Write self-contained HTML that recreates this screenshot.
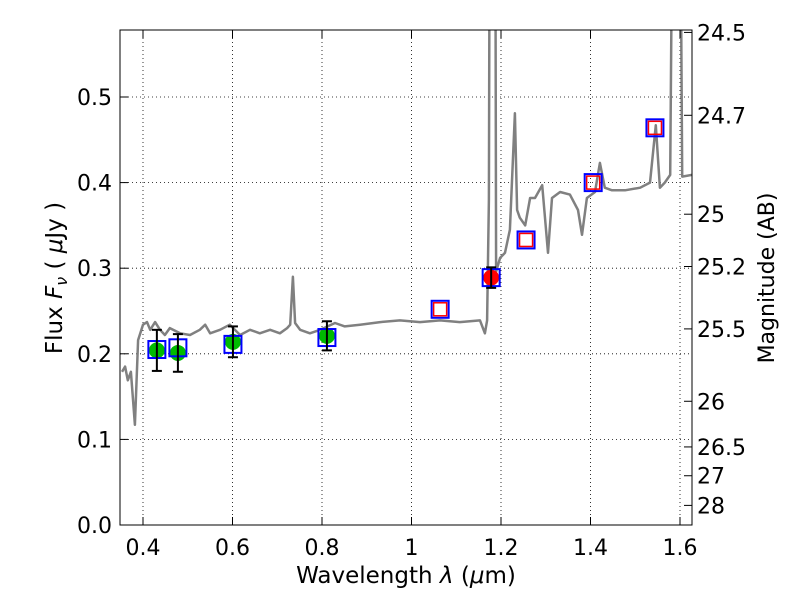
<!DOCTYPE html>
<html><head><meta charset="utf-8"><style>
body{margin:0;background:#fff;}
svg{display:block;font-family:"DejaVu Sans","Liberation Sans",sans-serif;}
</style></head><body>
<svg id="chart" width="800" height="600">
<defs><clipPath id="clip"><rect x="120" y="30" width="572" height="495"/></clipPath></defs>
<rect x="0" y="0" width="800" height="600" fill="#fff"/>
<g id="grid"></g>
<g id="spec" clip-path="url(#clip)"></g>
<g id="marks" clip-path="url(#clip)"></g>
<rect x="120" y="30" width="572" height="495" fill="none" stroke="#000" stroke-width="1"/>
<g id="axes"></g>
<text x="406" y="583" font-size="23" text-anchor="middle">Wavelength  <tspan font-style="italic">λ</tspan> (<tspan font-style="italic">μ</tspan>m)</text>
<text transform="translate(62,278) rotate(-90)" font-size="23" text-anchor="middle">Flux  <tspan font-style="italic">F</tspan><tspan font-style="italic" font-size="16" dy="5">ν</tspan><tspan dy="-5">  ( </tspan><tspan font-style="italic">μ</tspan>Jy )</text>
<text transform="translate(774,278) rotate(-90)" font-size="22" text-anchor="middle">Magnitude (AB)</text>
</svg>
<script>
const xTicks=[0.4,0.6,0.8,1.0,1.2,1.4,1.6];
const xTickLabels=["0.4","0.6","0.8","1","1.2","1.4","1.6"];
const yTicks=[0,0.1,0.2,0.3,0.4,0.5];
const yTickLabels=["0.0","0.1","0.2","0.3","0.4","0.5"];
const magTicks=[24.5,24.7,25,25.2,25.5,26,26.5,27,28];
const magLabels=["24.5","24.7","25","25.2","25.5","26","26.5","27","28"];
const specLam=[0.353,0.360,0.366,0.373,0.382,0.389,0.400,0.409,0.416,0.427,0.438,0.449,0.460,0.483,0.505,0.527,0.539,0.550,0.572,0.594,0.617,0.639,0.661,0.684,0.706,0.722,0.729,0.735,0.740,0.751,0.773,0.796,0.829,0.851,0.885,0.930,0.974,1.019,1.064,1.108,1.153,1.164,1.169,1.173,1.175,1.187,1.189,1.198,1.209,1.220,1.231,1.236,1.242,1.254,1.265,1.276,1.292,1.305,1.314,1.332,1.354,1.372,1.381,1.392,1.410,1.421,1.432,1.448,1.477,1.511,1.533,1.546,1.555,1.566,1.578,1.584,1.600,1.605,1.627];
const specFlux=[0.179,0.185,0.169,0.179,0.117,0.216,0.234,0.237,0.228,0.237,0.228,0.222,0.230,0.224,0.222,0.228,0.234,0.224,0.228,0.234,0.222,0.228,0.224,0.228,0.224,0.230,0.234,0.290,0.236,0.228,0.224,0.228,0.236,0.232,0.234,0.237,0.239,0.237,0.239,0.237,0.239,0.224,0.239,0.380,0.800,0.800,0.296,0.312,0.318,0.345,0.481,0.368,0.359,0.350,0.382,0.382,0.397,0.318,0.382,0.389,0.386,0.368,0.339,0.382,0.389,0.423,0.394,0.391,0.391,0.394,0.400,0.467,0.394,0.400,0.409,0.800,0.800,0.407,0.409];
const obsLam=[0.431,0.478,0.601,0.811];
const obsFlux=[0.204,0.201,0.214,0.221];
const obsErr=[0.024,0.022,0.018,0.017];
const redLam=[1.178];
const redFlux=[0.289];
const redErr=[0.012];
const modelLam=[0.431,0.478,0.601,0.811,1.064,1.178,1.256,1.406,1.544];
const modelFlux=[0.205,0.207,0.211,0.219,0.252,0.289,0.333,0.400,0.464];
const openLam=[1.064,1.256,1.406,1.544];
const openFlux=[0.252,0.333,0.400,0.464];

const NS="http://www.w3.org/2000/svg";
const X=v=>143+(v-0.4)*447.5;
const Y=v=>525-v*856;
const magToY=m=>Y(Math.pow(10,(23.9-m)/2.5));
function mk(tag,attrs,parent){const e=document.createElementNS(NS,tag);for(const k in attrs)e.setAttribute(k,attrs[k]);parent.appendChild(e);return e;}
const grid=document.getElementById('grid'),axes=document.getElementById('axes'),spec=document.getElementById('spec'),marks=document.getElementById('marks');
xTicks.forEach((t,i)=>{const x=X(t);
 let g=mk('line',{x1:x,x2:x,y1:30,y2:525,stroke:'#000','stroke-dasharray':'1,3','stroke-width':0.8},grid);
 
 mk('line',{x1:x,x2:x,y1:525,y2:517,stroke:'#000'},axes);mk('line',{x1:x,x2:x,y1:30,y2:38,stroke:'#000'},axes);
 let tx=mk('text',{x:x,y:555,'font-size':22,'text-anchor':'middle'},axes);tx.textContent=xTickLabels[i];
 });
yTicks.forEach((t,i)=>{const y=Y(t);
 let g=mk('line',{x1:120,x2:692,y1:y,y2:y,stroke:'#000','stroke-dasharray':'1,3','stroke-width':0.8},grid);
 
 mk('line',{x1:120,x2:128,y1:y,y2:y,stroke:'#000'},axes);
 let tx=mk('text',{x:112,y:y+8,'font-size':22,'text-anchor':'end'},axes);tx.textContent=yTickLabels[i];
 });
magTicks.forEach((m,i)=>{const y=magToY(m);
 mk('line',{x1:684,x2:692,y1:y,y2:y,stroke:'#000'},axes);
 let tx=mk('text',{x:697,y:y+8,'font-size':22},axes);tx.textContent=magLabels[i];
 });
let pts=specLam.map((l,i)=>X(l).toFixed(1)+','+Y(specFlux[i]).toFixed(1)).join(' ');
let pl=mk('polyline',{points:pts,fill:'none',stroke:'#808080','stroke-width':2.5,'stroke-linejoin':'round'},spec);

function errbar(l,f,e){const x=X(l);mk('line',{x1:x,x2:x,y1:Y(f+e),y2:Y(f-e),stroke:'#000','stroke-width':2},marks);
 mk('line',{x1:x-5,x2:x+5,y1:Y(f+e),y2:Y(f+e),stroke:'#000','stroke-width':2},marks);
 mk('line',{x1:x-5,x2:x+5,y1:Y(f-e),y2:Y(f-e),stroke:'#000','stroke-width':2},marks);}
obsLam.forEach((l,i)=>{let c=mk('circle',{cx:X(l),cy:Y(obsFlux[i]),r:8,fill:'#00bb00'},marks);
 });
redLam.forEach((l,i)=>{let c=mk('circle',{cx:X(l),cy:Y(redFlux[i]),r:8,fill:'#ff0000'},marks);
 });
openLam.forEach((l,i)=>{let r=mk('rect',{x:X(l)-6.5,y:Y(openFlux[i])-6.5,width:13,height:13,fill:'none',stroke:'#ff0000','stroke-width':1.5},marks);
 });
modelLam.forEach((l,i)=>{let r=mk('rect',{x:X(l)-8.5,y:Y(modelFlux[i])-8.5,width:17,height:17,fill:'none',stroke:'#0000ff','stroke-width':2},marks);
 });
obsLam.forEach((l,i)=>errbar(l,obsFlux[i],obsErr[i]));
redLam.forEach((l,i)=>errbar(l,redFlux[i],redErr[i]));
</script>
</body></html>
